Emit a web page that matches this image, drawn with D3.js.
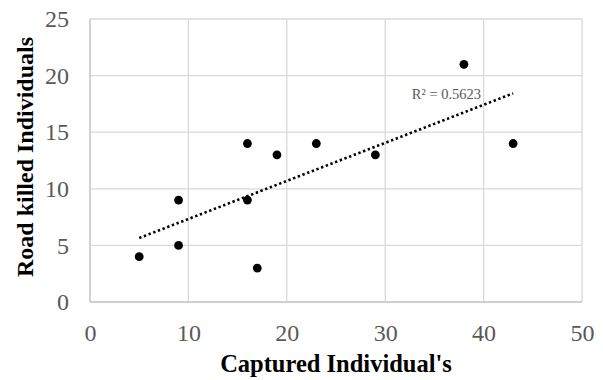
<!DOCTYPE html>
<html>
<head>
<meta charset="utf-8">
<script src="https://cdn.jsdelivr.net/npm/d3@7"></script>
<style>
  body { margin: 0; background: #fff; }
  svg { display: block; }
</style>
</head>
<body>
<div id="chart"></div>
<script>
// data
var captured = [5, 9, 9, 16, 16, 17, 19, 23, 29, 38, 43];
var roadKilled = [4, 9, 5, 14, 9, 3, 13, 14, 13, 21, 14];
var xTicks = [0, 10, 20, 30, 40, 50];
var yTicks = [0, 5, 10, 15, 20, 25];

var svgWidth = 603;
var svgHeight = 380;

var margin = { top: 19, right: 21, bottom: 78, left: 90 };
var width = svgWidth - margin.left - margin.right;
var height = svgHeight - margin.top - margin.bottom;

var serif = "'Liberation Serif', 'Times New Roman', serif";

var svg = d3.select("#chart")
  .append("svg")
  .attr("width", svgWidth)
  .attr("height", svgHeight);

var chartGroup = svg.append("g")
  .attr("transform", `translate(${margin.left}, ${margin.top})`);

var x = d3.scaleLinear().domain([0, 50]).range([0, width]);
var y = d3.scaleLinear().domain([0, 25]).range([height, 0]);

// gridlines
chartGroup.append("g")
  .selectAll("line")
  .data(xTicks)
  .enter()
  .append("line")
  .attr("x1", d => x(d)).attr("x2", d => x(d))
  .attr("y1", 0).attr("y2", height)
  .attr("stroke", "#d9d9d9").attr("stroke-width", 1.3);

chartGroup.append("g")
  .selectAll("line")
  .data(yTicks)
  .enter()
  .append("line")
  .attr("x1", 0).attr("x2", width)
  .attr("y1", d => y(d)).attr("y2", d => y(d))
  .attr("stroke", "#d9d9d9").attr("stroke-width", 1.3);

// axis lines a bit darker
chartGroup.append("line")
  .attr("x1", 0).attr("x2", 0).attr("y1", 0).attr("y2", height)
  .attr("stroke", "#c8c8c8").attr("stroke-width", 1.3);
chartGroup.append("line")
  .attr("x1", 0).attr("x2", width).attr("y1", height).attr("y2", height)
  .attr("stroke", "#c8c8c8").attr("stroke-width", 1.3);

// axes (labels only, lines are the grid)
var bottomAxis = d3.axisBottom(x).tickValues(xTicks).tickSize(0).tickPadding(22);
var leftAxis = d3.axisLeft(y).tickValues(yTicks).tickSize(0).tickPadding(21);

var xg = chartGroup.append("g")
  .attr("transform", `translate(0, ${height})`)
  .call(bottomAxis);
var yg = chartGroup.append("g").call(leftAxis);
[xg, yg].forEach(function(g) {
  g.select(".domain").remove();
  g.attr("font-family", serif);
  g.selectAll("text")
    .style("font-size", "24px")
    .attr("fill", "#595959");
});

// trendline (least squares)
var xm = d3.mean(captured), ym = d3.mean(roadKilled);
var sxy = d3.sum(captured, (d, i) => (d - xm) * (roadKilled[i] - ym));
var sxx = d3.sum(captured, d => (d - xm) * (d - xm));
var syy = d3.sum(roadKilled, d => (d - ym) * (d - ym));
var slope = sxy / sxx;
var intercept = ym - slope * xm;
var r2 = (sxy * sxy) / (sxx * syy);
var xExt = d3.extent(captured);

chartGroup.append("line")
  .attr("x1", x(xExt[0])).attr("y1", y(intercept + slope * xExt[0]))
  .attr("x2", x(xExt[1])).attr("y2", y(intercept + slope * xExt[1]))
  .attr("stroke", "#000")
  .attr("stroke-width", 2.6)
  .attr("stroke-dasharray", "2.4,2.6");

// points
chartGroup.selectAll("circle")
  .data(captured)
  .enter()
  .append("circle")
  .attr("cx", d => x(d))
  .attr("cy", (d, i) => y(roadKilled[i]))
  .attr("r", 4.4)
  .attr("fill", "#000");

// R² label
chartGroup.append("text")
  .attr("x", x(32.7))
  .attr("y", y(17.93))
  .attr("font-family", serif)
  .attr("font-size", "14.5px")
  .attr("fill", "#595959")
  .text("R² = " + r2.toFixed(4));

// axis titles
chartGroup.append("text")
  .attr("transform", "rotate(-90)")
  .attr("x", -138)
  .attr("y", 33 - margin.left)
  .attr("text-anchor", "middle")
  .attr("font-family", serif)
  .attr("font-weight", "bold")
  .attr("font-size", "24px")
  .text("Road killed Individuals");

chartGroup.append("text")
  .attr("x", width / 2)
  .attr("y", 372 - margin.top)
  .attr("text-anchor", "middle")
  .attr("font-family", serif)
  .attr("font-weight", "bold")
  .attr("font-size", "24.5px")
  .text("Captured Individual's");
</script>
</body>
</html>
